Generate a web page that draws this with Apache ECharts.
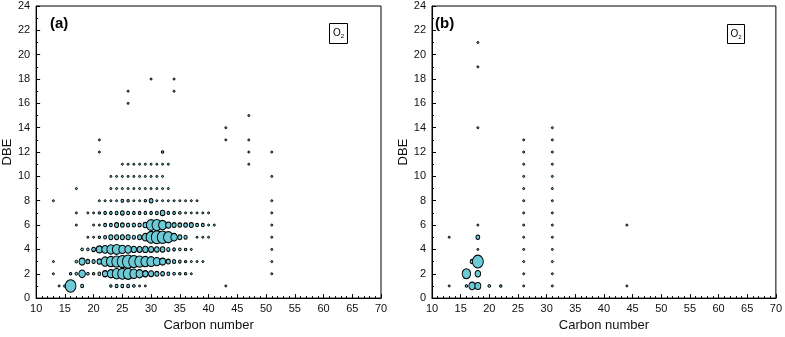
<!DOCTYPE html>
<html>
<head>
<meta charset="utf-8">
<script src="https://cdn.jsdelivr.net/npm/echarts@6/dist/echarts.min.js"></script>
<style>
html, body { margin: 0; padding: 0; background: #fff; }
#main { width: 785px; height: 337px; }
</style>
</head>
<body>
<div id="main"></div>
<script>
// [carbon number, DBE, relative abundance %]
var aLowDbe = [
	[14,1,2],[15,1,3],[16,1,80],[18,1,6],[23,1,3],[24,1,6],[25,1,6],[26,1,6],[27,1,4],[28,1,2],[29,1,2],[43,1,2],
	[13,2,2],[16,2,3],[17,2,4],[18,2,30],[19,2,4],[20,2,3],[21,2,6],[22,2,20],[23,2,35],[24,2,55],[25,2,60],[26,2,65],
	[27,2,45],[28,2,35],[29,2,20],[30,2,18],[31,2,12],[32,2,10],[33,2,6],[34,2,4],[35,2,3],[36,2,3],[37,2,2],[51,2,2],
	[13,3,2],[17,3,4],[18,3,25],[19,3,10],[20,3,8],[21,3,15],[22,3,45],[23,3,55],[24,3,65],[25,3,75],[26,3,90],
	[27,3,75],[28,3,65],[29,3,55],[30,3,50],[31,3,35],[32,3,25],[33,3,12],[34,3,8],[35,3,5],[36,3,3],[37,3,2],
	[38,3,2],[39,3,2],[51,3,2],
	[18,4,4],[19,4,4],[20,4,10],[21,4,25],[22,4,30],[23,4,45],[24,4,50],[25,4,35],[26,4,30],[27,4,20],[28,4,18],
	[29,4,20],[30,4,18],[31,4,15],[32,4,15],[33,4,8],[34,4,5],[35,4,4],[36,4,3],[37,4,2],[51,4,2]
];
var aMidDbe = [
	[19,5,2],[20,5,2],[21,5,3],[22,5,6],[23,5,12],[24,5,12],[25,5,12],[26,5,12],[27,5,8],[28,5,12],[29,5,30],
	[30,5,70],[31,5,85],[32,5,80],[33,5,65],[34,5,30],[35,5,12],[36,5,8],[38,5,2],[39,5,2],[40,5,2],[51,5,2],
	[17,6,2],[20,6,2],[21,6,2],[22,6,6],[23,6,6],[24,6,12],[25,6,10],[26,6,8],[27,6,8],[28,6,8],[29,6,15],
	[30,6,60],[31,6,65],[32,6,45],[33,6,20],[34,6,12],[35,6,10],[36,6,10],[37,6,12],[38,6,6],[39,6,6],[40,6,2],
	[41,6,2],[51,6,2],
	[17,7,2],[19,7,2],[20,7,2],[21,7,3],[22,7,5],[23,7,5],[24,7,6],[25,7,10],[26,7,6],[27,7,5],[28,7,5],[29,7,5],
	[30,7,5],[31,7,6],[32,7,15],[33,7,5],[34,7,5],[35,7,4],[36,7,2],[37,7,2],[38,7,2],[39,7,2],[40,7,2],[51,7,2],
	[13,8,2],[21,8,2],[22,8,2],[23,8,2],[24,8,2],[25,8,5],[26,8,3],[27,8,2],[28,8,2],[29,8,3],[30,8,10],[31,8,2],
	[32,8,2],[33,8,2],[34,8,2],[35,8,2],[36,8,2],[37,8,2],[38,8,2],[51,8,2]
];
var aHighDbe = [
	[17,9,2],[23,9,2],[24,9,2],[25,9,2],[26,9,2],[27,9,2],[28,9,2],[29,9,2],[30,9,2],[31,9,2],[32,9,2],[33,9,2],
	[23,10,2],[24,10,2],[25,10,2],[26,10,2],[27,10,2],[28,10,2],[29,10,2],[30,10,2],[31,10,2],[32,10,2],[51,10,2],
	[25,11,2],[26,11,2],[27,11,2],[28,11,2],[29,11,2],[30,11,2],[31,11,2],[32,11,2],[33,11,2],[47,11,2],
	[21,12,2],[32,12,3],[47,12,2],[51,12,2],
	[21,13,2],[43,13,2],[47,13,2],
	[43,14,2],[47,15,2],[26,16,2],[26,17,2],[34,17,2],[30,18,2],[34,18,2]
];
var bPoints = [
	[13,1,1.5],[16,1,3],[17,1,30],[18,1,25],[20,1,4],[22,1,3],[26,1,1.5],[31,1,1.5],[44,1,1.5],
	[16,2,50],[18,2,22],[26,2,1.5],[31,2,1.5],
	[17,3,10],[18,3,85],[26,3,1.5],[31,3,1.5],
	[18,4,2],[26,4,1.5],[31,4,1.5],
	[13,5,1.5],[18,5,10],[26,5,1.5],[31,5,1.5],
	[18,6,2],[26,6,1.5],[31,6,1.5],[44,6,1.5],
	[26,7,1.5],[31,7,1.5],[26,8,1.5],[31,8,1.5],[26,9,1.5],[31,9,1.5],[26,10,1.5],[31,10,1.5],
	[26,11,1.5],[31,11,1.5],[26,12,1.5],[31,12,1.5],[26,13,1.5],[31,13,1.5],
	[18,14,1.5],[31,14,1.5],[18,19,1.5],[18,21,1.5]
];
var panelTags = ['(a)', '(b)'];
var xTitle = 'Carbon number';
var yTitle = 'DBE';

var font = 'Liberation Sans, Arial, sans-serif';

// bubble area ~ abundance; slightly taller than wide like the original print
function bubbleSize(v) {
	var s = Math.max(2, 14 * Math.sqrt(v[2] / 100));
	if (s <= 3) return s;
	return [s * 0.85, s];
}

function makeX(idx) {
	return {
		gridIndex: idx, type: 'value', min: 10, max: 70, interval: 5,
		name: xTitle, nameLocation: 'middle', nameGap: 19,
		nameTextStyle: { fontFamily: font, fontSize: 13, color: '#111' },
		axisLine: { onZero: false, lineStyle: { color: '#000', width: 1 } },
		axisTick: { inside: true, length: 4, lineStyle: { color: '#000' } },
		minorTick: { show: true, splitNumber: 5, length: 2, lineStyle: { color: '#000' } },
		axisLabel: { fontFamily: font, fontSize: 11, color: '#111', margin: 5 },
		splitLine: { show: false }
	};
}
function makeY(idx) {
	return {
		gridIndex: idx, type: 'value', min: 0, max: 24, interval: 2,
		name: yTitle, nameLocation: 'middle', nameGap: 22, nameRotate: 90,
		nameTextStyle: { fontFamily: font, fontSize: 13, color: '#111' },
		axisLine: { onZero: false, lineStyle: { color: '#000', width: 1 } },
		axisTick: { inside: true, length: 4, lineStyle: { color: '#000' } },
		minorTick: { show: true, splitNumber: 2, length: 2, lineStyle: { color: '#000' } },
		axisLabel: { fontFamily: font, fontSize: 11, color: '#111', margin: 6 },
		splitLine: { show: false }
	};
}
function makeSeries(data, idx) {
	return {
		type: 'scatter', xAxisIndex: idx, yAxisIndex: idx,
		symbol: 'circle', symbolSize: bubbleSize,
		itemStyle: { color: '#6ccad6', borderColor: '#000', borderWidth: 1, opacity: 1 },
		data: data
	};
}
function o2Box(x, y, w, h) {
	return {
		type: 'group', left: x, top: y,
		children: [
			{ type: 'rect', shape: { x: 0, y: 0, width: w, height: h }, style: { fill: '#fff', stroke: '#000', lineWidth: 1 } },
			{ type: 'text', x: w / 2, y: h / 2, style: {
				text: 'O{s|2}', align: 'center', verticalAlign: 'middle',
				font: '10px ' + font, fill: '#000',
				rich: { s: { fontSize: 6, fontFamily: font, padding: [6, 0, 0, 0] } }
			} }
		]
	};
}

var dom = document.getElementById('main');
var myChart = echarts.init(dom);
var option = {
	backgroundColor: '#fff',
	animation: false,
	grid: [
		{ left: 35, right: 404, top: 6, bottom: 37, show: true, borderColor: '#000', borderWidth: 1 },
		{ left: 432, right: 7, top: 6, bottom: 38, show: true, borderColor: '#000', borderWidth: 1 }
	],
	xAxis: [makeX(0), makeX(1)],
	yAxis: [makeY(0), makeY(1)],
	series: [
		makeSeries(aLowDbe, 0),
		makeSeries(aMidDbe, 0),
		makeSeries(aHighDbe, 0),
		makeSeries(bPoints, 1)
	],
	graphic: [
		{ type: 'text', left: 50, top: 16, style: { text: panelTags[0], font: 'bold 15px ' + font, fill: '#000' } },
		{ type: 'text', left: 435, top: 16, style: { text: panelTags[1], font: 'bold 15px ' + font, fill: '#000' } },
		o2Box(329, 23, 18, 20),
		o2Box(727, 24, 17, 19)
	]
};
if (option && typeof option === 'object') {
	myChart.setOption(option, true);
}
</script>
</body>
</html>
